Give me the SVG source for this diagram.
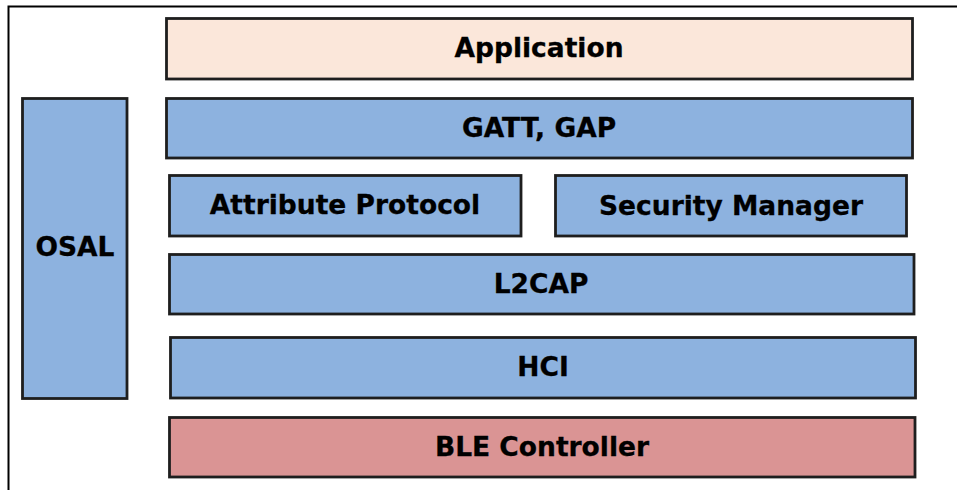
<svg xmlns="http://www.w3.org/2000/svg" width="957" height="490" viewBox="0 0 957 490">
<style>
.box{stroke:#1e1e1e;stroke-width:2.8}
.blue{fill:#8DB2DF}
.peach{fill:#FBE7DA}
.red{fill:#DA9494}
.lbl{font-family:"DejaVu Sans",Verdana,sans-serif;font-weight:bold;font-size:26.5px;fill:#000;stroke:#000;stroke-width:0.3;text-anchor:middle}
</style>
<rect x="0" y="0" width="957" height="490" fill="#fff"/>
<path d="M8.5,490 V6.5 H957" fill="none" stroke="#000" stroke-width="2"/>
<g id="application"><rect class="box peach" x="166.5" y="18.5" width="746" height="60.5"/><text class="lbl" x="539" y="57">Application</text></g>
<g id="gatt-gap"><rect class="box blue" x="166.5" y="98.5" width="746" height="59.5"/><text class="lbl" x="539" y="136.5">GATT, GAP</text></g>
<g id="osal"><rect class="box blue" x="22.5" y="98.5" width="104.5" height="300"/><text class="lbl" x="75" y="256">OSAL</text></g>
<g id="attribute-protocol"><rect class="box blue" x="169.5" y="175.5" width="351.5" height="60.5"/><text class="lbl" x="345" y="213.5">Attribute Protocol</text></g>
<g id="security-manager"><rect class="box blue" x="555.5" y="175.5" width="351" height="60.5"/><text class="lbl" x="731" y="214.5">Security Manager</text></g>
<g id="l2cap"><rect class="box blue" x="169.5" y="254.5" width="744.5" height="59.5"/><text class="lbl" x="541" y="292.5">L2CAP</text></g>
<g id="hci"><rect class="box blue" x="170.5" y="337.5" width="745" height="60.5"/><text class="lbl" x="543" y="375.5">HCI</text></g>
<g id="ble-controller"><rect class="box red" x="169.5" y="417.5" width="745.5" height="59.5"/><text class="lbl" x="542" y="455.5">BLE Controller</text></g>
<g id="connectors"></g>
</svg>
